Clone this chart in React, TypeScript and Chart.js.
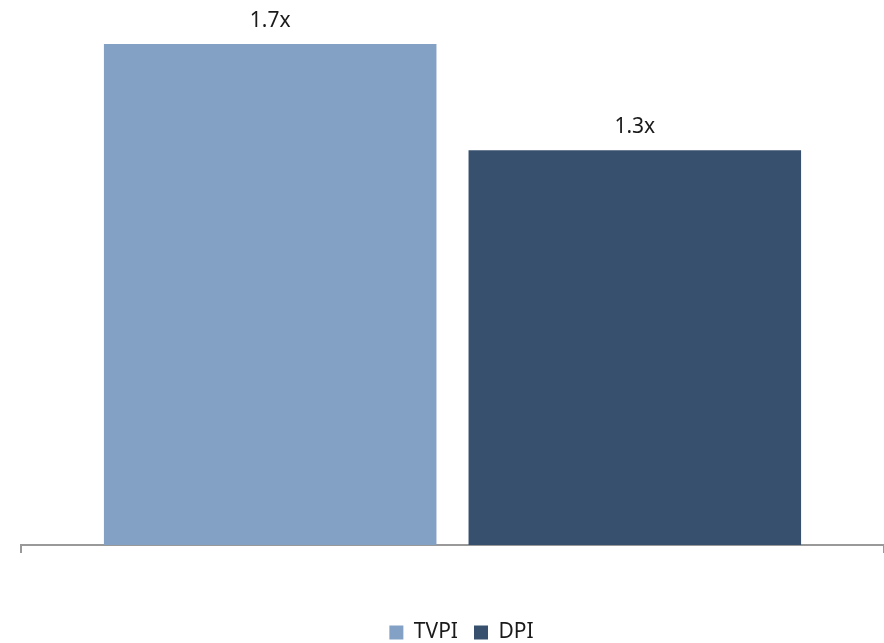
import React, { useEffect, useRef } from "react";
import { Chart, registerables } from "chart.js";

Chart.register(...registerables);

const categories = [""];
const seriesNames = ["TVPI", "DPI"];
const tvpiValues = [1.65];
const dpiValues = [1.3];
const valueLabels = ["1.7x", "1.3x"];
const seriesColors = ["#82A1C4", "#37506E"];

const BOTTOM_PAD = 43;
const LEGEND_SHIFT_Y = 53;
const LEGEND_SHIFT_X = 9;

const labelPlugin = {
  id: "barValueLabels",
  afterDatasetsDraw(chart: any) {
    const ctx = chart.ctx;
    ctx.save();
    ctx.font = "21px 'Noto Sans', sans-serif";
    ctx.fillStyle = "#1a1a1a";
    ctx.textAlign = "center";
    ctx.textBaseline = "alphabetic";
    chart.data.datasets.forEach((_ds: any, i: number) => {
      const meta = chart.getDatasetMeta(i);
      meta.data.forEach((el: any) => {
        ctx.fillText(valueLabels[i], el.x, el.y - 17);
      });
    });
    ctx.restore();
  },
};

const legendShiftPlugin = {
  id: "legendShift",
  afterLayout(chart: any) {
    if (chart.legend) {
      chart.legend.top += LEGEND_SHIFT_Y;
      chart.legend.bottom += LEGEND_SHIFT_Y;
      chart.legend.left += LEGEND_SHIFT_X;
      chart.legend.right += LEGEND_SHIFT_X;
    }
  },
};

export default function App() {
  const ref = useRef<HTMLCanvasElement>(null);
  useEffect(() => {
    document.body.style.margin = "0";
    const chart = new Chart(ref.current!, {
      type: "bar",
      data: {
        labels: categories,
        datasets: [
          { label: seriesNames[0], data: tvpiValues, backgroundColor: seriesColors[0] },
          { label: seriesNames[1], data: dpiValues, backgroundColor: seriesColors[1] },
        ],
      },
      options: {
        animation: false,
        responsive: false,
        categoryPercentage: 0.845,
        barPercentage: 0.912,
        layout: { padding: { left: 21, right: 0, top: 0, bottom: BOTTOM_PAD } },
        scales: {
          x: {
            ticks: { display: false },
            grid: {
              drawOnChartArea: false,
              drawTicks: true,
              tickLength: 8,
              color: "#999",
              lineWidth: 2,
            },
            border: { display: true, color: "#999", width: 2 },
          },
          y: { display: false, min: 0, max: 1.795 },
        },
        plugins: {
          legend: {
            position: "bottom",
            labels: {
              boxWidth: 14,
              boxHeight: 14,
              color: "#1a1a1a",
              font: { size: 21, family: "'Noto Sans', sans-serif" },
              padding: 16,
            },
          },
          tooltip: { enabled: false },
        },
      } as any,
      plugins: [labelPlugin, legendShiftPlugin],
    });
    return () => chart.destroy();
  }, []);
  return <canvas ref={ref} width={884} height={643} style={{ display: "block" }} />;
}
